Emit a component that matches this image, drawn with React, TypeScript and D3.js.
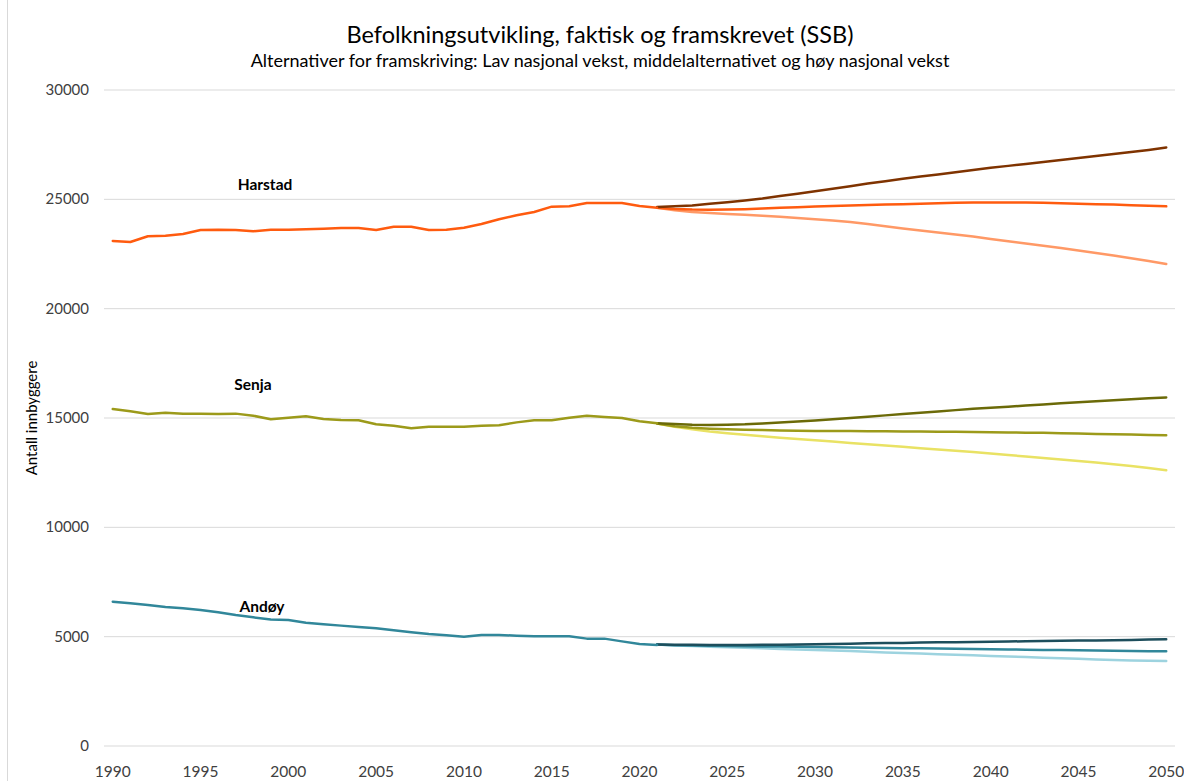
import React from 'react';
import * as d3 from 'd3';

const actualYears = d3.range(1990, 2022);
const projYears = d3.range(2021, 2051);

const harstadActual = [23095, 23050, 23310, 23340, 23415, 23600, 23610, 23600, 23540, 23610, 23610, 23630, 23660, 23690, 23690, 23600, 23750, 23750, 23600, 23610, 23700, 23870, 24090, 24270, 24420, 24665, 24680, 24830, 24830, 24830, 24695, 24620];
const harstadHigh = [24650, 24680, 24720, 24800, 24870, 24950, 25040, 25150, 25260, 25370, 25480, 25600, 25720, 25830, 25940, 26040, 26140, 26240, 26340, 26440, 26530, 26620, 26710, 26800, 26890, 26980, 27070, 27160, 27260, 27370];
const harstadMid = [24620, 24560, 24530, 24520, 24530, 24550, 24580, 24610, 24640, 24670, 24700, 24720, 24740, 24760, 24780, 24800, 24820, 24840, 24850, 24850, 24850, 24850, 24840, 24820, 24800, 24780, 24760, 24730, 24710, 24680];
const harstadLow = [24620, 24500, 24420, 24370, 24330, 24290, 24250, 24200, 24150, 24090, 24030, 23960, 23870, 23770, 23670, 23570, 23480, 23390, 23300, 23190, 23080, 22980, 22880, 22770, 22660, 22550, 22430, 22310, 22180, 22040];

const senjaActual = [15410, 15305, 15185, 15245, 15200, 15200, 15185, 15200, 15105, 14940, 15015, 15075, 14955, 14910, 14895, 14710, 14650, 14530, 14605, 14605, 14605, 14650, 14665, 14800, 14895, 14895, 15015, 15105, 15045, 15000, 14850, 14755];
const senjaHigh = [14760, 14720, 14690, 14680, 14690, 14710, 14750, 14790, 14840, 14890, 14940, 15000, 15060, 15120, 15180, 15240, 15300, 15360, 15420, 15470, 15520, 15570, 15620, 15670, 15720, 15770, 15810, 15860, 15900, 15940];
const senjaMid = [14750, 14620, 14550, 14510, 14480, 14460, 14450, 14430, 14420, 14410, 14400, 14400, 14390, 14390, 14380, 14380, 14370, 14370, 14360, 14350, 14340, 14330, 14320, 14300, 14290, 14270, 14260, 14240, 14220, 14210];
const senjaLow = [14750, 14600, 14480, 14380, 14300, 14230, 14160, 14100, 14040, 13980, 13920, 13860, 13800, 13740, 13680, 13620, 13560, 13500, 13440, 13380, 13310, 13240, 13170, 13100, 13030, 12960, 12880, 12800, 12710, 12610];

const andoyActual = [6600, 6525, 6450, 6355, 6295, 6220, 6115, 5990, 5885, 5790, 5760, 5640, 5565, 5505, 5440, 5380, 5290, 5200, 5120, 5060, 5000, 5075, 5075, 5045, 5015, 5015, 5015, 4910, 4910, 4785, 4665, 4620];
const andoyHigh = [4640, 4630, 4625, 4620, 4620, 4620, 4625, 4635, 4645, 4655, 4670, 4680, 4695, 4705, 4715, 4730, 4740, 4750, 4760, 4770, 4780, 4790, 4800, 4810, 4820, 4830, 4840, 4850, 4865, 4880];
const andoyMid = [4640, 4610, 4595, 4585, 4575, 4565, 4555, 4545, 4535, 4525, 4515, 4505, 4495, 4485, 4475, 4465, 4455, 4445, 4435, 4425, 4415, 4405, 4395, 4385, 4375, 4365, 4355, 4345, 4338, 4330];
const andoyLow = [4640, 4600, 4570, 4540, 4515, 4490, 4465, 4440, 4415, 4390, 4365, 4340, 4310, 4280, 4255, 4225, 4200, 4175, 4145, 4120, 4090, 4065, 4035, 4010, 3985, 3960, 3935, 3910, 3895, 3885];

const yTicks = [0, 5000, 10000, 15000, 20000, 25000, 30000];
const xTickYears = d3.range(1990, 2051, 5);

const municipalities = [
  { name: 'Harstad', actual: harstadActual, low: harstadLow, mid: harstadMid, high: harstadHigh,
    colors: { actual: '#ff5b0f', low: '#ff9966', mid: '#ff5b0f', high: '#7f3300' }, label: [265, 190] },
  { name: 'Senja', actual: senjaActual, low: senjaLow, mid: senjaMid, high: senjaHigh,
    colors: { actual: '#9c9a1a', low: '#e9e264', mid: '#9c9a1a', high: '#6b6a08' }, label: [253, 390] },
  { name: 'Andøy', actual: andoyActual, low: andoyLow, mid: andoyMid, high: andoyHigh,
    colors: { actual: '#31879a', low: '#9dd3df', mid: '#31879a', high: '#1d4e5c' }, label: [262, 612] },
];

const W = 1184;
const H = 781;
const font = 'Lato, "Open Sans", sans-serif';

export default function App() {
  const plotLeft = 104;
  const plotRight = 1175;
  const x = d3.scalePoint<number>()
    .domain(d3.range(1990, 2051))
    .range([plotLeft, plotRight])
    .padding(0.5);
  const y = d3.scaleLinear().domain([0, 30000]).range([746, 90]);

  const line = (years: number[]) =>
    d3.line<number>()
      .x((_, i) => x(years[i]) as number)
      .y(d => y(d));

  const actLine = line(actualYears);
  const projLine = line(projYears);

  return (
    <svg width={W} height={H} style={{ position: 'absolute', left: 0, top: 0, background: '#fff' }}>
      <line x1={7.5} x2={7.5} y1={0} y2={H} stroke="#d9d9d9" />
      <text x={600} y={43} textAnchor="middle" fontFamily={font} fontSize={23.5} fill="#000">
        Befolkningsutvikling, faktisk og framskrevet (SSB)
      </text>
      <text x={600} y={67} textAnchor="middle" fontFamily={font} fontSize={18} fill="#000">
        Alternativer for framskriving: Lav nasjonal vekst, middelalternativet og høy nasjonal vekst
      </text>
      <text transform={`translate(37,${y(15000)}) rotate(-90)`} textAnchor="middle"
        fontFamily={font} fontSize={15} fill="#000">
        Antall innbyggere
      </text>
      {yTicks.map(t => (
        <g key={t}>
          <line x1={plotLeft} x2={plotRight} y1={y(t)} y2={y(t)} stroke="#d9d9d9" strokeWidth={1} />
          <text x={89} y={y(t) + 5} textAnchor="end" fontFamily={font} fontSize={15} fill="#404040">
            {t}
          </text>
        </g>
      ))}
      {xTickYears.map(yr => (
        <text key={yr} x={x(yr)} y={777} textAnchor="middle" fontFamily={font} fontSize={15.5} fill="#404040">
          {yr}
        </text>
      ))}
      {municipalities.map(m => (
        <g key={m.name} fill="none" strokeWidth={2.5} strokeLinejoin="round" strokeLinecap="round">
          <path d={projLine(m.low) || ''} stroke={m.colors.low} />
          <path d={projLine(m.mid) || ''} stroke={m.colors.mid} />
          <path d={projLine(m.high) || ''} stroke={m.colors.high} />
          <path d={actLine(m.actual) || ''} stroke={m.colors.actual} />
        </g>
      ))}
      {municipalities.map(m => (
        <text key={m.name} x={m.label[0]} y={m.label[1]} textAnchor="middle" fontFamily={font}
          fontSize={15.5} fontWeight="bold" fill="#000">
          {m.name}
        </text>
      ))}
    </svg>
  );
}
